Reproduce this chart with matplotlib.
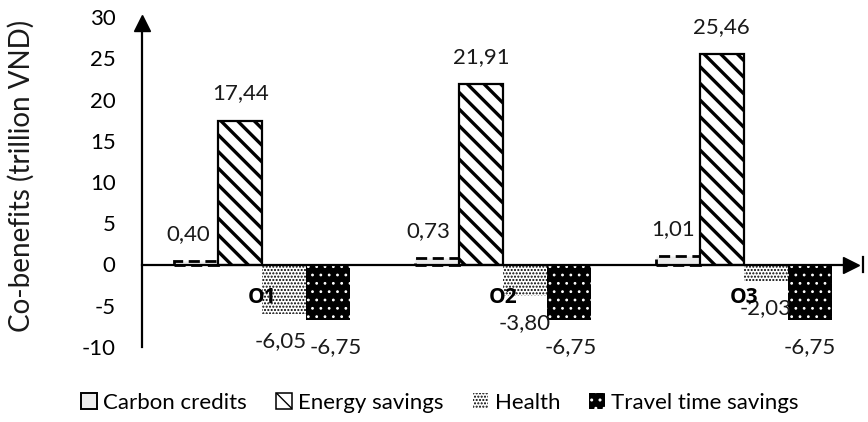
import numpy as np
import matplotlib
matplotlib.use("Agg")
import matplotlib.pyplot as plt
from matplotlib.patches import Rectangle

plt.rcParams['font.family'] = ['Lato', 'DejaVu Sans']
plt.rcParams['font.size'] = 16

# Data
categories = ['O1', 'O2', 'O3']
carbon_credits = [0.40, 0.73, 1.01]
energy_savings = [17.44, 21.91, 25.46]
health = [-6.05, -3.80, -2.03]
travel_time_savings = [-6.75, -6.75, -6.75]
series_names = ['Carbon credits', 'Energy savings', 'Health', 'Travel time savings']
y_ticks = [-10, -5, 0, 5, 10, 15, 20, 25, 30]

series = [carbon_credits, energy_savings, health, travel_time_savings]

# Bar styles
styles = [
    dict(facecolor='#ececec', edgecolor='black', hatch=None, linewidth=2.0, linestyle=(0, (4, 2)), hlw=1.0),
    dict(facecolor='white', edgecolor='black', hatch='\\\\', linewidth=1.6, linestyle='-', hlw=2.4),
    dict(facecolor='white', edgecolor='black', hatch='.....', linewidth=0, linestyle='-', hlw=1.0),
    dict(facecolor='black', edgecolor='white', hatch='..', linewidth=0, linestyle='-', hlw=0.8),
]

fig = plt.figure(figsize=(8.68, 4.22), dpi=100)
ax = fig.add_axes([142 / 868, 1 - 347 / 422, (864 - 142) / 868, (347 - 17) / 422])

n = len(categories)
centers = np.arange(n) + 0.5
width = 0.183
offsets = (np.arange(4) - 1.5) * width

handles = []
for k, (vals, st) in enumerate(zip(series, styles)):
    with plt.rc_context({'hatch.linewidth': st['hlw']}):
        ax.bar(centers + offsets[k], vals, width=width,
               facecolor=st['facecolor'], edgecolor=st['edgecolor'],
               hatch=st['hatch'], linewidth=st['linewidth'],
               linestyle=st['linestyle'], zorder=2)
        handles.append(Rectangle((0, 0), 1, 1, facecolor=st['facecolor'],
                                 edgecolor=st['edgecolor'], hatch=st['hatch'],
                                 linewidth=st['linewidth'] * 0.7, linestyle='-'))

# Value labels with decimal commas
label_dx = {
    0: [-6, -6, -3],
    1: [0, 0, 0],
    2: [-3, 0, 0],
    3: [5, 1, 0],
}
for k, vals in enumerate(series):
    for i, v in enumerate(vals):
        dy = 19.5 if v >= 0 else -19.5
        ax.annotate(f"{v:.2f}".replace('.', ','),
                    xy=(centers[i] + offsets[k], v),
                    xytext=(label_dx[k][i], dy), textcoords='offset points',
                    ha='center', va='center', fontsize=16, color='#1a1a1a',
                    zorder=5)

ax.set_xlim(0, 3)
ax.set_ylim(-10, 30)

for s in ax.spines.values():
    s.set_visible(False)

# Category labels beneath the zero line, drawn over the bars
ax.set_xticks([])
for c, name in zip(centers, categories):
    ax.annotate(name, xy=(c, 0), xytext=(0, -24), textcoords='offset points',
                ha='center', va='center', fontsize=15, fontweight='bold',
                family=['Open Sans', 'DejaVu Sans'], color='black', zorder=6)

ax.set_yticks(y_ticks)
ax.set_yticklabels([str(t) for t in y_ticks], fontsize=16)
ax.tick_params(axis='y', length=0, pad=19)

# Axis lines with arrow heads
ax.plot([0, 0], [-10, 29], color='black', lw=1.6, zorder=3, clip_on=False)
ax.plot([0], [29.3], marker='^', markersize=11, color='black', zorder=4, clip_on=False)
ax.plot([0, 2.95], [0, 0], color='black', lw=1.6, zorder=3, clip_on=False)
ax.plot([2.945], [0], marker='>', markersize=11, color='black', zorder=4, clip_on=False)
ax.plot([2.997, 2.997], [-0.85, 0.85], color='black', lw=1.6, zorder=4, clip_on=False)

fig.text(21 / 868, 1 - 176 / 422, 'Co-benefits (trillion VND)', rotation=90,
         ha='center', va='center', fontsize=20, color='#1a1a1a')

fig.legend(handles, series_names, loc='center', bbox_to_anchor=(440 / 868, 1 - 403 / 422),
           ncol=4, frameon=False, fontsize=16, handlelength=0.7, handleheight=0.7,
           handletextpad=0.3, columnspacing=1.3)

fig.savefig('out.png', dpi=100)
